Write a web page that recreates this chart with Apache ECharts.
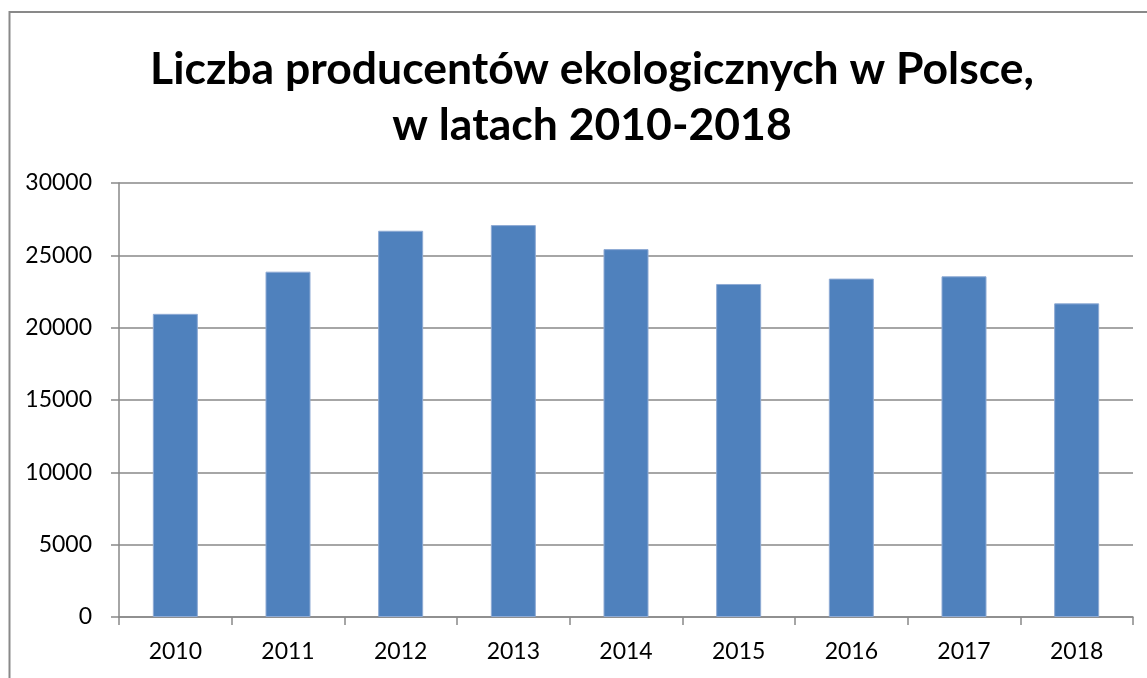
<!DOCTYPE html>
<html>
<head>
<meta charset="utf-8">
<script src="https://cdn.jsdelivr.net/npm/echarts@6/dist/echarts.min.js"></script>
<style>
  html, body { margin: 0; padding: 0; background: #fff; }
  #chart { width: 1147px; height: 678px; }
</style>
</head>
<body>
<div id="chart"></div>
<script>
// Number of organic producers in Poland by year
const years = ['2010', '2011', '2012', '2013', '2014', '2015', '2016', '2017', '2018'];
const producers = [20956, 23870, 26700, 27090, 25430, 23020, 23390, 23550, 21680];
const yTicks = { min: 0, max: 30000, interval: 5000 };
const titleLines = ['Liczba producentów ekologicznych w Polsce,', 'w latach 2010-2018'];

const chart = echarts.init(document.getElementById('chart'), null, { renderer: 'canvas' });
const gray = '#898989';
const labelFont = 'Lato, "Liberation Sans", sans-serif';

chart.setOption({
  animation: false,
  backgroundColor: '#fff',
  title: {
    text: titleLines.join('\n'),
    left: 587,
    top: 37,
    textAlign: 'center',
    textStyle: {
      fontFamily: labelFont,
      fontWeight: 'bold',
      fontSize: 44.5,
      lineHeight: 56,
      color: '#000'
    }
  },
  graphic: [{
    type: 'rect',
    shape: { x: 9.5, y: 12, width: 1200, height: 700 },
    style: { fill: 'none', stroke: gray, lineWidth: 2 },
    silent: true
  }],
  grid: { left: 119, right: 14, top: 183, bottom: 61 },
  xAxis: {
    type: 'category',
    data: years,
    boundaryGap: true,
    axisLine: { show: true, lineStyle: { color: gray, width: 1.5 } },
    axisTick: { show: true, length: 8, alignWithLabel: false, lineStyle: { color: gray, width: 1.5 } },
    axisLabel: { color: '#000', fontFamily: labelFont, fontSize: 23, margin: 23 },
    splitLine: { show: false }
  },
  yAxis: {
    type: 'value',
    min: yTicks.min,
    max: yTicks.max,
    interval: yTicks.interval,
    axisLine: { show: true, lineStyle: { color: gray, width: 1.5 } },
    axisTick: { show: true, length: 8, inside: false, lineStyle: { color: gray, width: 1.5 } },
    axisLabel: {
      color: '#000', fontFamily: labelFont, fontSize: 23, margin: 27,
      formatter: v => String(v)
    },
    splitLine: { show: true, lineStyle: { color: gray, width: 1.5 } }
  },
  series: [{
    type: 'bar',
    data: producers,
    barWidth: 45,
    itemStyle: {
      color: '#4F81BD',
      borderColor: '#8eaad4',
      borderWidth: 1
    }
  }]
});
</script>
</body>
</html>
